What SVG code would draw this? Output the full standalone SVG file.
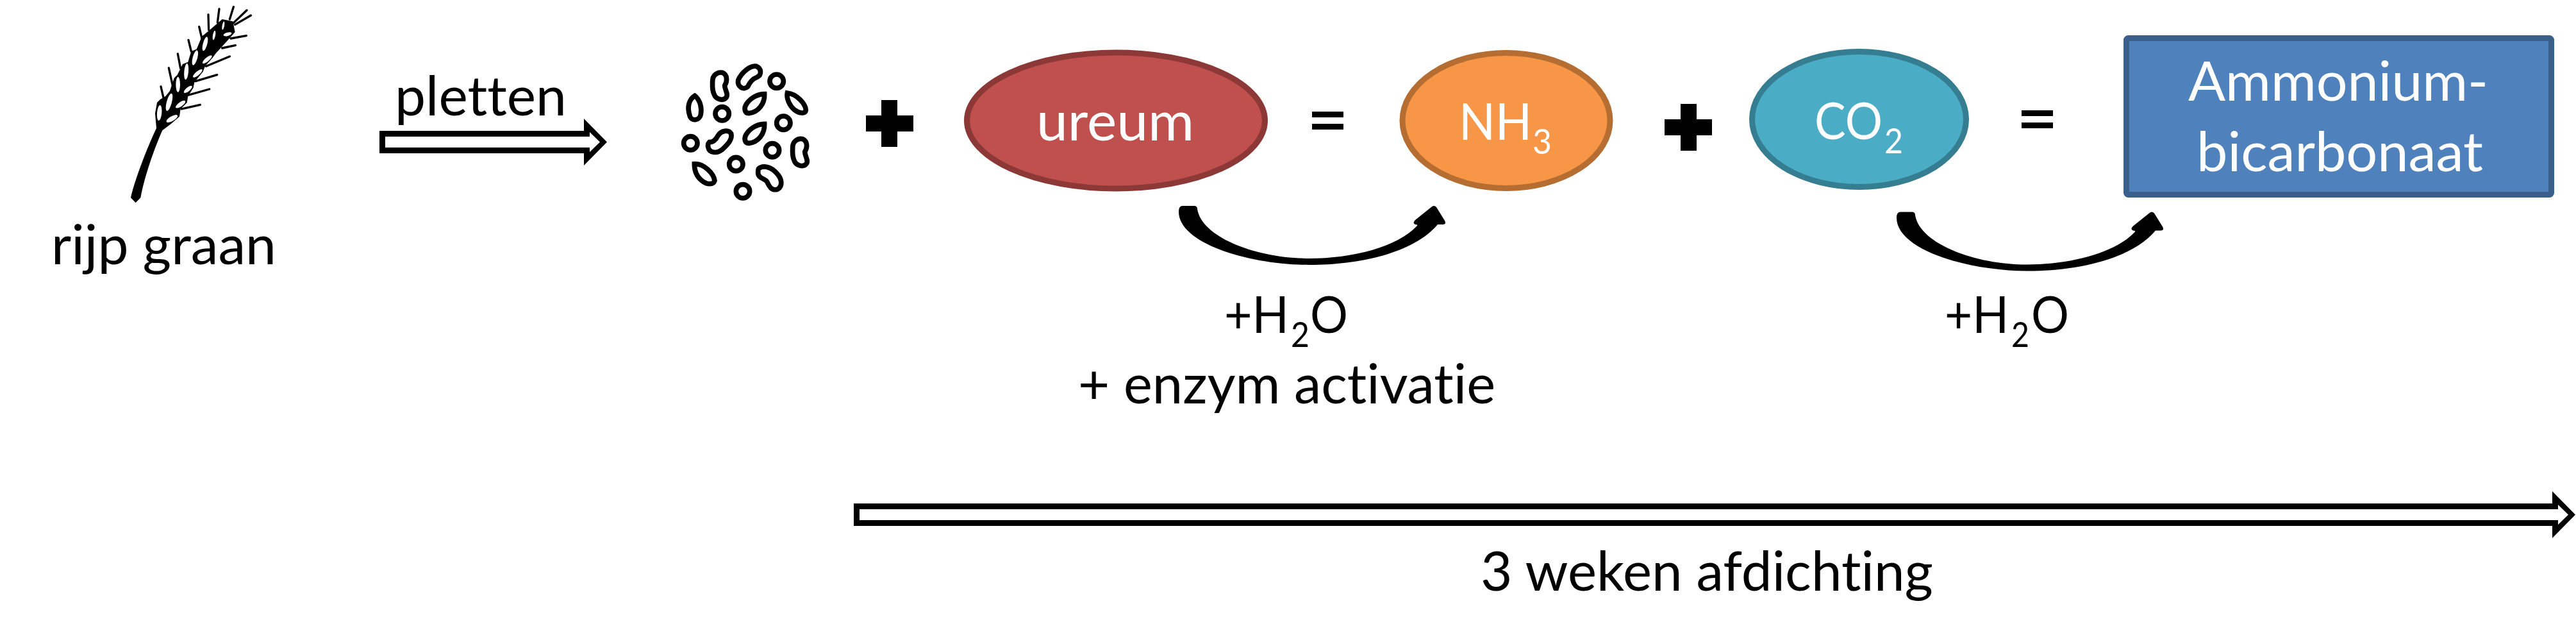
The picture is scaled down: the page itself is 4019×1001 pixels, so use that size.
<svg xmlns="http://www.w3.org/2000/svg" xmlns:xlink="http://www.w3.org/1999/xlink" width="4019" height="1001" viewBox="0 0 4019 1001">
<style>
text{font-family:Lato,"Open Sans","Liberation Sans",sans-serif;font-size:86px;font-variant-ligatures:none;fill:#000}
text.c{font-size:80px}
.w{fill:#fff}
.s{font-size:54px}
.hole{fill:#fff;stroke:none}
.awn{fill:none;stroke:#000;stroke-width:10;stroke-linecap:round}
.grain{fill:#fff;stroke:#000;stroke-width:23}
.op{fill:#000}
.blk{fill:#000;fill-rule:evenodd}
</style>
<defs>
<path id="curve" d="M1839,330 Q1839,321 1845,321 L1863,321 Q1868,321 1868,326 C1875,370 1960,403 2043,403 C2110,403 2180,385 2211,352 Q2212,350 2208,350 Q2203,348 2208,343 L2233,323 Q2237,319 2241,323 L2254,344 Q2257,350 2251,350 L2243,350 C2205,395 2120,413 2043,413 C1950,413 1839,380 1839,330Z"/>
</defs>
<rect width="4019" height="1001" fill="#fff"/>
<g id="connectors">
<path id="arrow-pletten" class="blk" d="M592,204H911V185L947,221.500L911,258V239H592ZM601,213V230H920V237L936,221.500L920,206V213Z"/>
<path id="arrow-afdichting" class="blk" d="M1332,785H3982V766L4018,802.500L3982,839V820H1332ZM1341,794V811H3991V818L4007,802.500L3991,787V794Z"/>
<use id="curve-ureum" href="#curve" xlink:href="#curve"/>
<use id="curve-co2" href="#curve" xlink:href="#curve" transform="translate(1120,9.500)"/>
</g>
<g id="wheat" transform="translate(150,0) scale(.33333)">
<path class="awn" d="M318,470L303,405M358,400L340,318M395,320L382,252M445,240L432,187M495,180L482,125M527,140L525,68M568,105L576,42M625,90L643,32M400,510L487,490M430,445L530,417M465,380L566,350M515,310L625,264M590,225L652,212M630,180L703,167M640,110L705,48M650,115L724,72"/>
<path d="M162,925 C175,860 230,710 282,600 L276,530 L285,480 L300,465 L325,450 L345,425 L365,365 L380,350 L405,300 L430,290 L445,240 L470,230 L495,170 L520,150 L590,90 L640,100 L650,150 L610,195 L560,250 L545,270 L510,310 L500,335 L460,385 L455,410 L430,450 L425,480 L395,510 L390,545 L350,580 L310,610 C270,700 225,830 208,925 L185,948Z"/>
<g class="hole">
<ellipse cx="296" cy="528" rx="11" ry="36" transform="rotate(5 296 528)"/>
<ellipse cx="342" cy="478" rx="12" ry="42" transform="rotate(15 342 478)"/>
<ellipse cx="355" cy="555" rx="30" ry="11" transform="rotate(-30 355 555)"/>
<ellipse cx="395" cy="488" rx="27" ry="10" transform="rotate(-35 395 488)"/>
<ellipse cx="383" cy="395" rx="10" ry="36"/>
<ellipse cx="430" cy="418" rx="24" ry="9" transform="rotate(-40 430 418)"/>
<ellipse cx="422" cy="335" rx="10" ry="38" transform="rotate(5 422 335)"/>
<ellipse cx="475" cy="343" rx="28" ry="9" transform="rotate(-40 475 343)"/>
<ellipse cx="463" cy="270" rx="11" ry="36" transform="rotate(15 463 270)"/>
<ellipse cx="520" cy="278" rx="28" ry="9" transform="rotate(-40 520 278)"/>
<ellipse cx="510" cy="205" rx="10" ry="34" transform="rotate(15 510 205)"/>
<ellipse cx="552" cy="165" rx="6" ry="22" transform="rotate(10 552 165)"/>
<ellipse cx="595" cy="120" rx="5" ry="20" transform="rotate(10 595 120)"/>
<ellipse cx="615" cy="160" rx="20" ry="8" transform="rotate(-15 615 160)"/>
</g>
</g>
<g id="grains" class="grain" transform="translate(1040,90) scale(.33333)">
<circle cx="515" cy="110" r="32"/><circle cx="260" cy="262" r="32"/><circle cx="547" cy="305" r="32"/><circle cx="112" cy="400" r="32"/><circle cx="495" cy="433" r="32"/><circle cx="325" cy="498" r="32"/><circle cx="357" cy="625" r="32"/>
<path d="M132,178 C160,200 165,240 160,265 C155,295 115,300 108,270 C95,230 105,195 132,178Z"/>
<path d="M458,170 C460,215 430,255 385,260 C365,260 360,235 375,215 C395,185 430,170 458,170Z"/>
<path d="M458,310 C460,355 430,395 385,400 C365,400 360,375 375,355 C395,325 430,310 458,310Z"/>
<path d="M565,165 C610,170 650,215 652,245 C650,265 620,260 600,245 C575,225 560,190 565,165Z"/>
<path d="M130,497 C175,495 220,540 225,575 C220,595 190,595 165,575 C140,555 130,525 130,497Z"/>
<path d="M215,110 C215,80 240,65 262,70 C285,80 285,110 272,130 C272,150 290,170 280,185 C265,205 230,195 222,170 C212,150 215,130 215,110Z"/>
<path d="M590,420 C590,390 615,375 637,380 C660,390 660,420 647,440 C647,460 665,480 655,495 C640,515 605,505 597,480 C587,460 590,440 590,420Z"/>
<path d="M335,105 C350,70 390,35 420,40 C445,50 445,80 425,90 C400,100 390,115 380,135 C360,155 330,135 335,105Z"/>
<path d="M200,395 C215,395 230,385 240,365 C255,340 290,335 302,355 C310,385 280,410 260,430 C235,450 200,445 195,420 C192,410 195,400 200,395Z"/>
<path d="M430,520 C450,500 490,510 515,540 C540,565 545,600 520,615 C490,625 480,600 470,580 C460,565 430,565 428,540 C428,530 428,525 430,520Z"/>
</g>
<g id="label-rijp-graan"><text x="80" y="412" textLength="351" lengthAdjust="spacingAndGlyphs">rijp graan</text></g>
<g id="label-pletten"><text x="616" y="180" textLength="268" lengthAdjust="spacingAndGlyphs">pletten</text></g>
<path id="plus-1" class="op" d="M1375,156H1400V180H1425V205H1400V229H1375V205H1351V180H1375Z"/>
<g id="ureum">
<ellipse cx="1741" cy="188" rx="232.500" ry="106" fill="#C0504D" stroke="#8C3836" stroke-width="9"/>
<text class="w" x="1617" y="219" textLength="246" lengthAdjust="spacingAndGlyphs">ureum</text>
</g>
<path id="equals-1" class="op" d="M2047,174H2096V183H2047ZM2047,193H2096V202H2047Z"/>
<g id="nh3">
<ellipse cx="2350" cy="188" rx="162" ry="105.500" fill="#F79646" stroke="#B66D31" stroke-width="9"/>
<text class="w c"><tspan x="2276" y="218" textLength="114" lengthAdjust="spacingAndGlyphs">NH</tspan><tspan class="s" x="2391" y="240" textLength="30" lengthAdjust="spacingAndGlyphs">3</tspan></text>
</g>
<path id="plus-2" class="op" d="M2622,162H2647V186H2671V211H2647V235H2622V211H2597V186H2622Z"/>
<g id="co2">
<ellipse cx="2900.500" cy="186" rx="167" ry="105.500" fill="#4BACC6" stroke="#357D91" stroke-width="9"/>
<text class="w c"><tspan x="2831" y="217" textLength="106" lengthAdjust="spacingAndGlyphs">CO</tspan><tspan class="s" x="2940" y="239" textLength="29" lengthAdjust="spacingAndGlyphs">2</tspan></text>
</g>
<path id="equals-2" class="op" d="M3154,172H3203V181H3154ZM3154,191H3203V200H3154Z"/>
<g id="ammoniumbicarbonaat">
<rect x="3317.500" y="59.500" width="663" height="244" rx="3" fill="#4F81BD" stroke="#3A5F8B" stroke-width="9"/>
<text class="w" x="3414" y="157" textLength="468" lengthAdjust="spacingAndGlyphs">Ammonium-</text>
<text class="w" x="3427" y="267" textLength="447" lengthAdjust="spacingAndGlyphs">bicarbonaat</text>
</g>
<g id="label-h2o-enzym">
<text class="c"><tspan x="1910" y="519" textLength="101" lengthAdjust="spacingAndGlyphs">+H</tspan><tspan class="s" x="2014" y="541" textLength="29" lengthAdjust="spacingAndGlyphs">2</tspan><tspan x="2044" y="519" textLength="59" lengthAdjust="spacingAndGlyphs">O</tspan></text>
<text x="1682" y="629" textLength="651" lengthAdjust="spacingAndGlyphs">+ enzym activatie</text>
</g>
<g id="label-h2o">
<text class="c"><tspan x="3034" y="519" textLength="100" lengthAdjust="spacingAndGlyphs">+H</tspan><tspan class="s" x="3138" y="541" textLength="28" lengthAdjust="spacingAndGlyphs">2</tspan><tspan x="3169" y="519" textLength="59" lengthAdjust="spacingAndGlyphs">O</tspan></text>
</g>
<g id="label-afdichting"><text x="2310" y="921" textLength="706" lengthAdjust="spacingAndGlyphs">3 weken afdichting</text></g>
</svg>
